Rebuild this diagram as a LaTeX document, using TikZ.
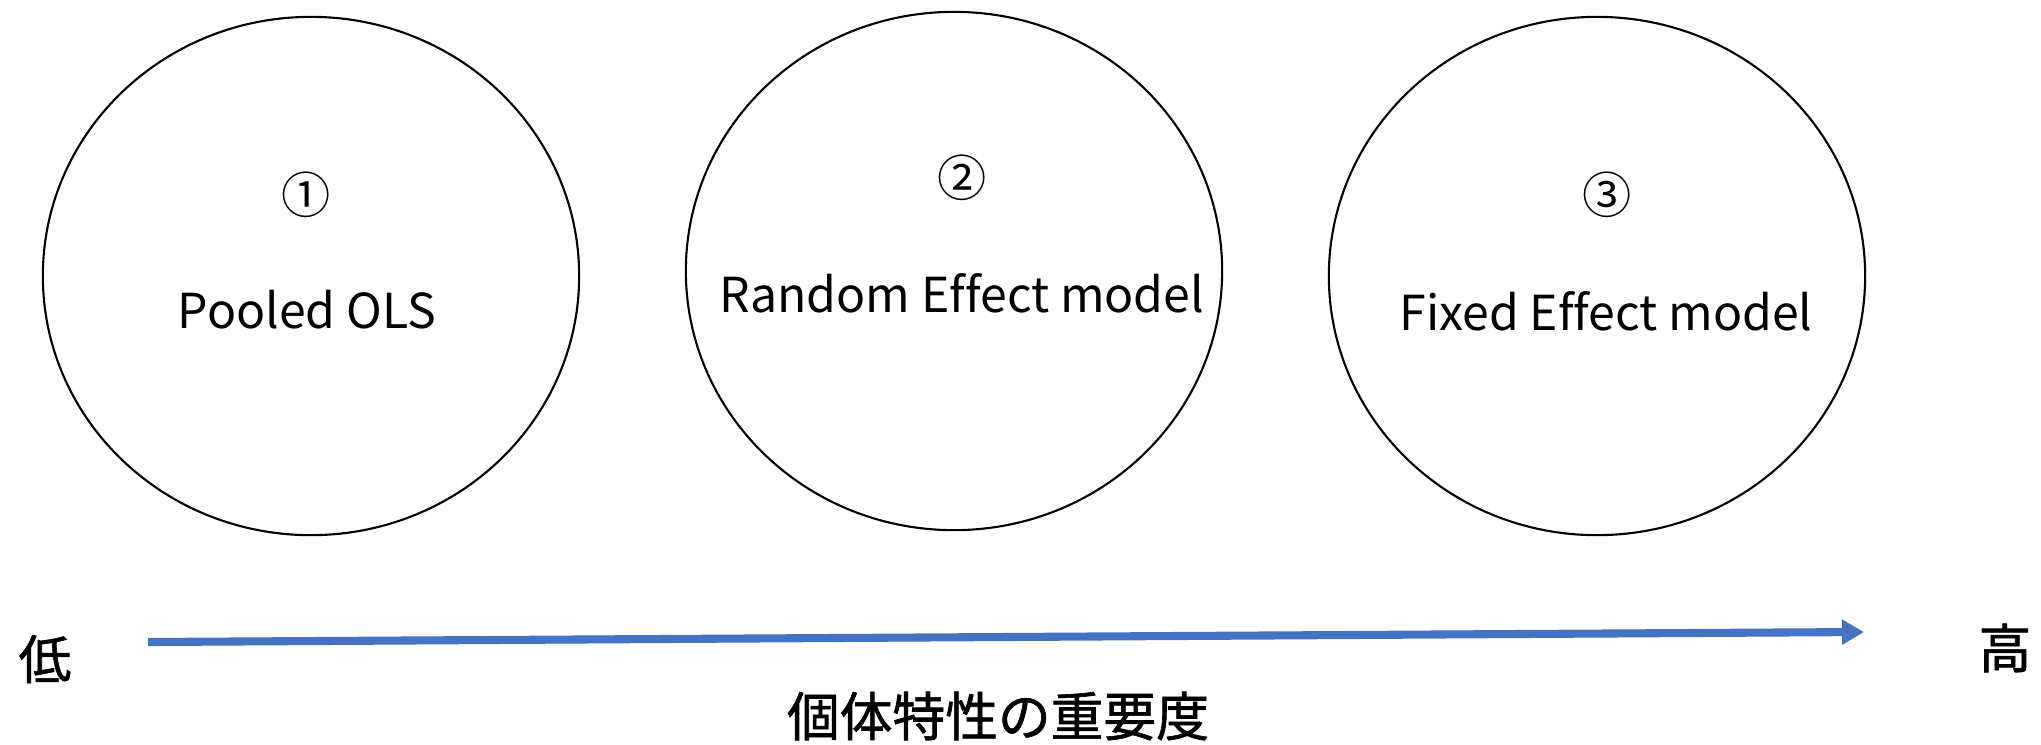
\documentclass[tikz,border=0pt]{standalone}
\usepackage{fontspec}
\setmainfont{Noto Sans CJK JP}[Ligatures=NoCommon]
\newfontfamily\jpaxis{Noto Sans CJK JP}[FakeBold=1.2]
\usetikzlibrary{arrows.meta,shapes.geometric}
\definecolor{officeblue}{HTML}{4472C4}
\tikzset{model/.style={draw,ellipse,line width=0.6pt,minimum width=5.36cm,minimum height=5.18cm,inner sep=0pt},
  modeltext/.style={font=\fontsize{13.7}{16}\selectfont},
  numtext/.style={font=\fontsize{14}{16}\selectfont},
  axistext/.style={font=\fontsize{15}{18}\selectfont\jpaxis},
  axisarrow/.style={officeblue,line width=2.3pt,-{Triangle[length=0.22cm,width=0.24cm]}}}
\begin{document}
\begin{tikzpicture}[x=0.01cm,y=-0.01cm]
		\useasboundingbox (0,0) rectangle (2041,744);
		\node[model] (pooled) at (311,276) {};
		\node[model] (random) at (954,271) {};
		\node[model] (fixed) at (1597,276) {};
		\node[numtext] (n1) at (306,195) {①};
		\node[numtext] (n2) at (962,178) {②};
		\node[numtext] (n3) at (1607,195) {③};
		\node[modeltext] (t1) at (307,310) {Pooled OLS};
		\node[modeltext] (t2) at (962,293) {Random Effect model};
		\node[modeltext] (t3) at (1606,311) {Fixed Effect model};
		\coordinate (start) at (148,642);
		\coordinate (end) at (1864,632);
		\draw[axisarrow] (start) -- (end);
		\node[axistext] (low) at (45,659) {低};
		\node[axistext] (high) at (2005,648) {高};
		\node[axistext] (importance) at (998,716) {個体特性の重要度};
		\end{tikzpicture}
\end{document}
